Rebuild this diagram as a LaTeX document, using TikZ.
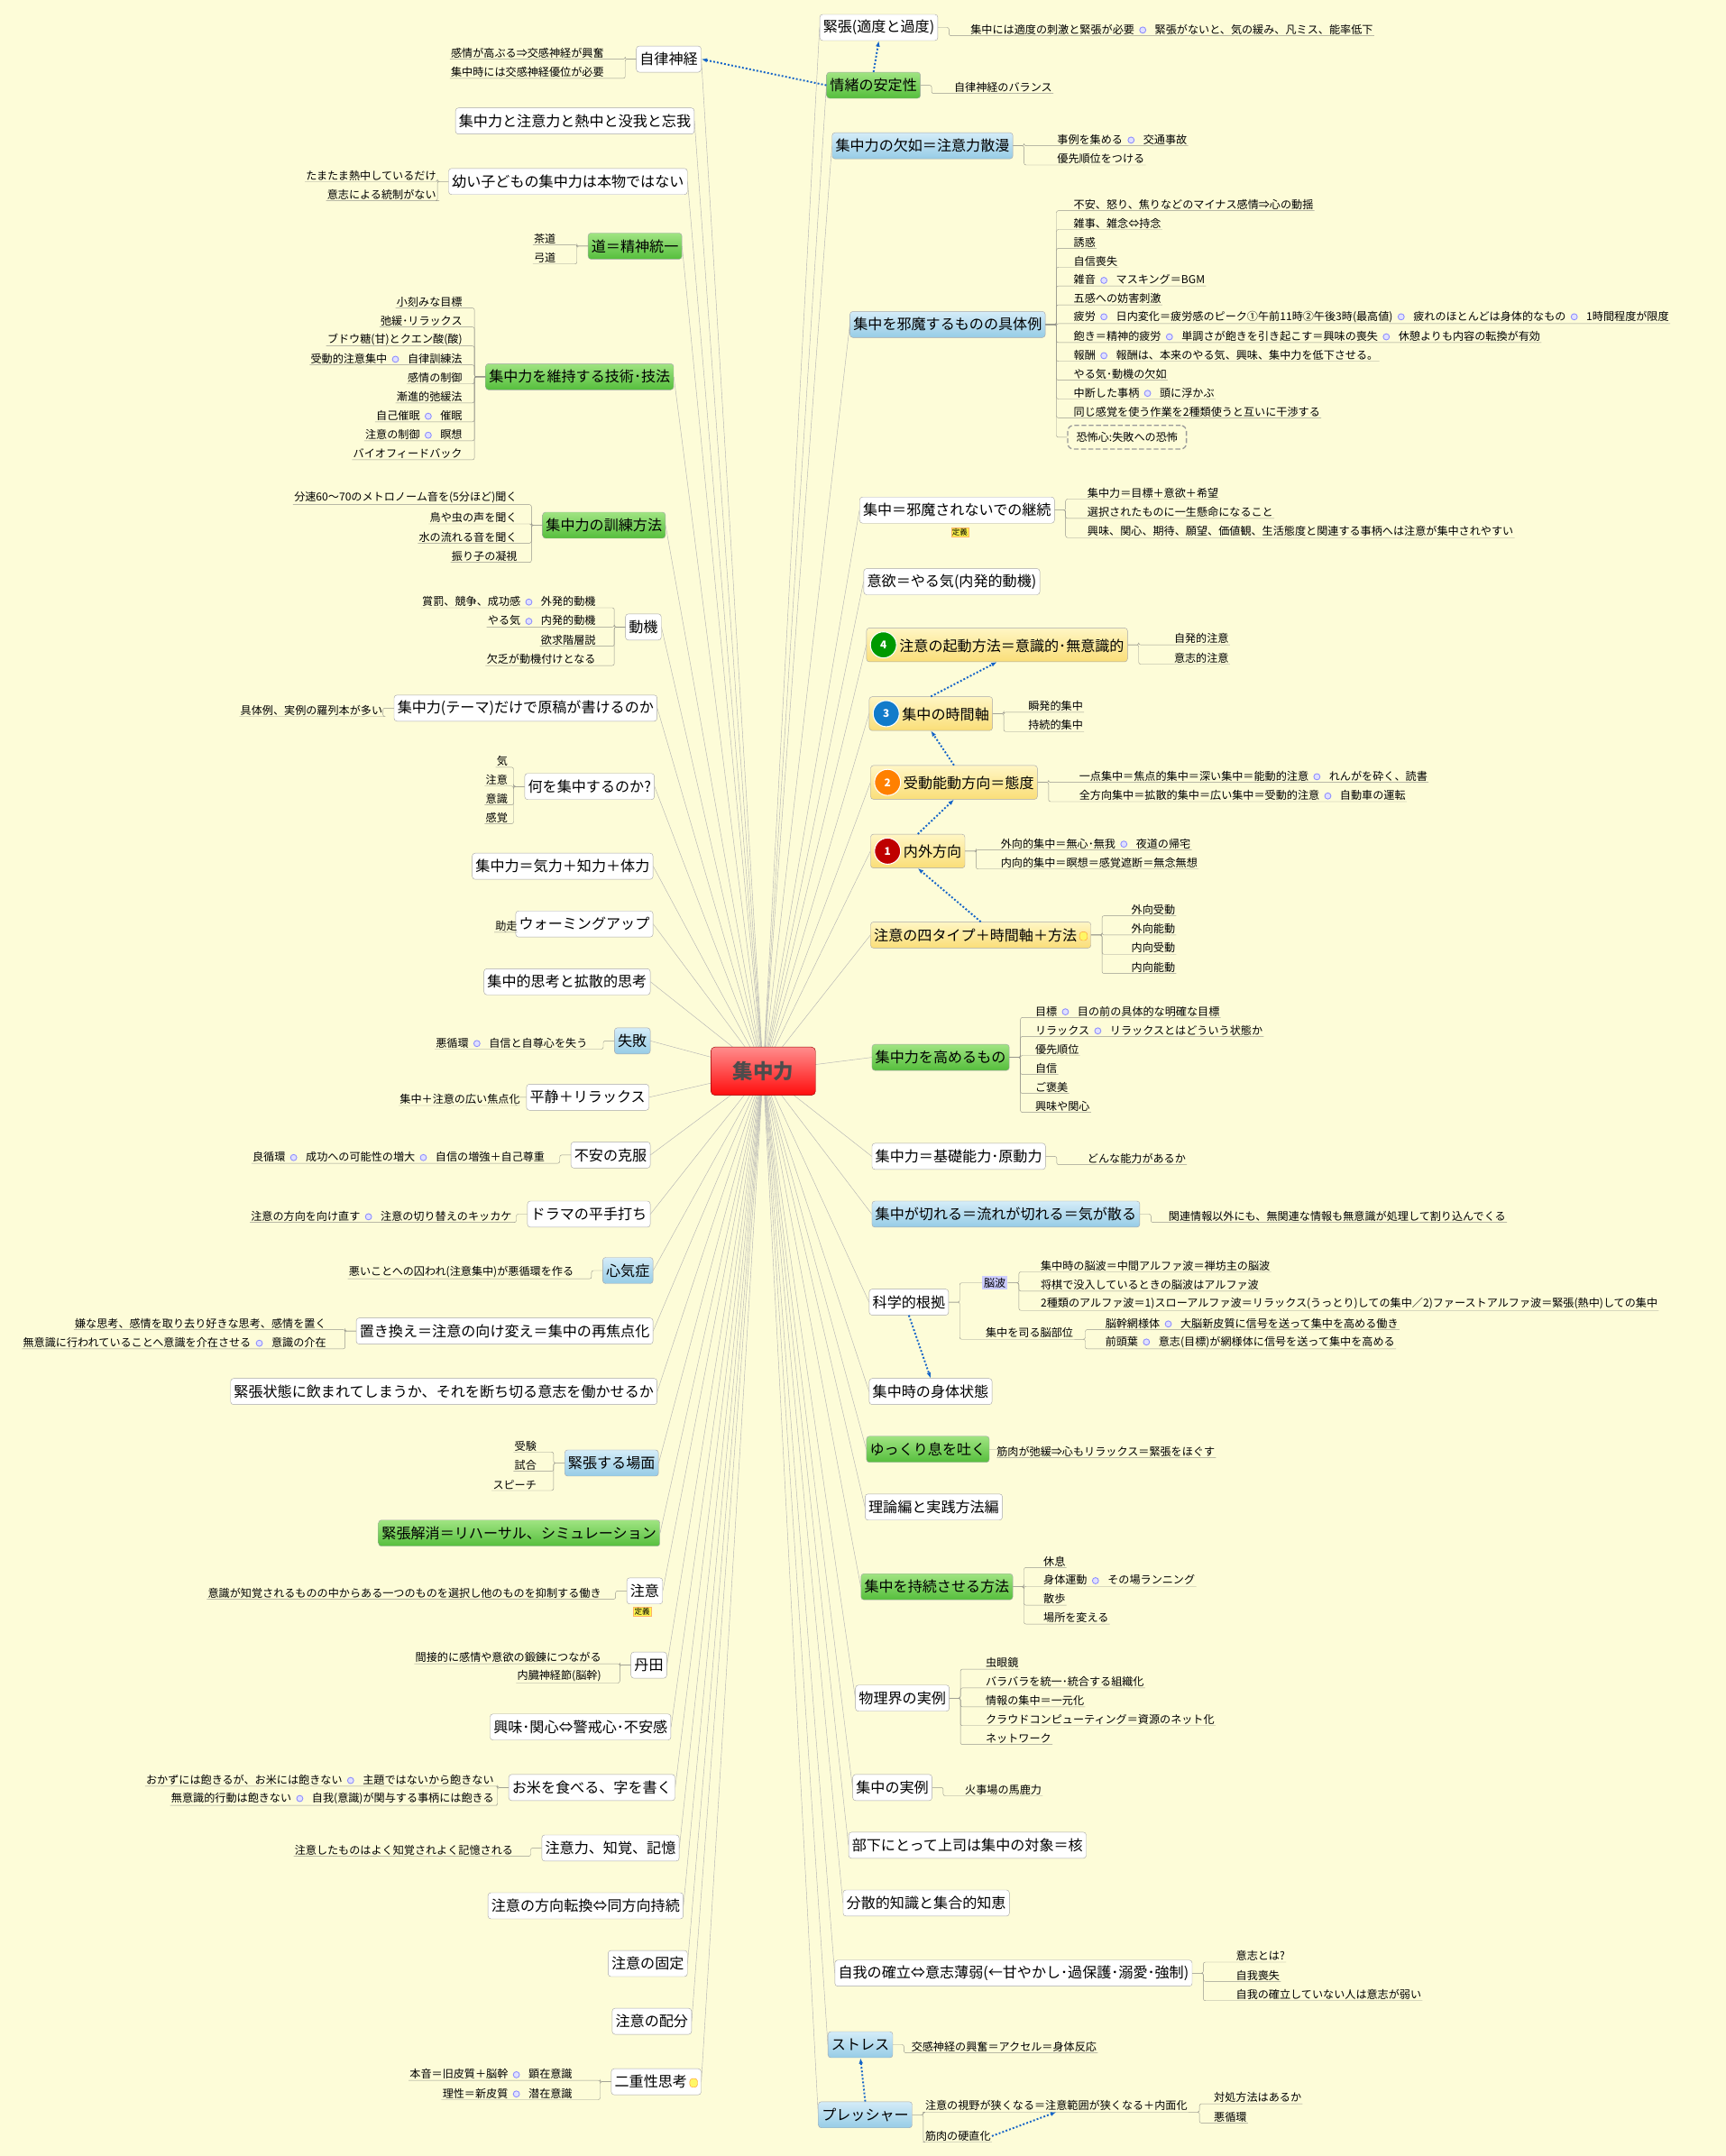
\documentclass[tikz,border=0pt]{standalone}
\usepackage{fontspec}
\setmainfont{Noto Sans CJK JP}
\usetikzlibrary{backgrounds,arrows.meta}
\definecolor{paper}{RGB}{253,252,216}
\definecolor{twiggray}{RGB}{150,150,140}
\tikzset{
  branch/.style={draw=gray!70, rounded corners=3pt, fill=white, inner sep=3.5pt,
    minimum height=0.95cm, font=\fontsize{15}{16}\selectfont},
  greenb/.style={branch, top color={rgb,255:red,160;green,228;blue,130}, bottom color={rgb,255:red,85;green,190;blue,60}},
  blueb/.style={branch, top color={rgb,255:red,212;green,236;blue,248}, bottom color={rgb,255:red,150;green,204;blue,230}},
  yellowb/.style={branch, top color={rgb,255:red,255;green,246;blue,196}, bottom color={rgb,255:red,250;green,222;blue,120}},
  leaf/.style={inner sep=1pt, font=\fontsize{11.3}{12}\selectfont},
  twig/.style={draw=twiggray, rounded corners=2pt},
  spoke/.style={draw=gray!60, thin},
  hint/.style={-{Latex[length=6pt]}, draw={rgb,255:red,20;green,100;blue,200}, dotted, line width=1.8pt},
  tag/.style={inner sep=1pt, font=\fontsize{8}{9}\selectfont, fill=yellow!70, draw=orange!60}
}
\newcommand{\knob}{\hspace{5pt}\tikz[baseline=-0.6ex]\draw[draw=blue!45,fill=blue!12,line width=0.8pt] (0,0) circle (3.2pt);\hspace{9pt}}
\newcommand{\badge}[2]{\tikz[baseline=-0.8ex]\node[circle,fill=#1,text=white,font=\bfseries\fontsize{11}{12}\selectfont,inner sep=2pt,draw=white,line width=1pt]{#2};\,}
\newcommand{\memo}{\,\tikz[baseline=0pt]\draw[fill=yellow!60,draw=orange!80] (0,0) rectangle (8pt,9pt);}
% leaf to the right of its parent
\newcommand{\twigR}[5]{%
  \node[leaf,anchor=south west] (#2) at (#3,#4+6) {#5};
  \draw[twig] (#1) -- ++(8,0) |- (#2.south west) -- (#2.south east);}
% leaf to the left of its parent
\newcommand{\twigL}[5]{%
  \node[leaf,anchor=south east] (#2) at (#3,#4+6) {#5};
  \draw[twig] (#1) -- ++(-8,0) |- (#2.south east) -- (#2.south west);}
\begin{document}
\begin{tikzpicture}[x=0.05cm,y=-0.05cm]
\useasboundingbox (0,0) rectangle (1255,1568);
\node[draw=red!60!black, rounded corners=4pt, top color=red!45, bottom color=red!95, minimum width=3.8cm, minimum height=1.75cm, font=\fontsize{21}{24}\bfseries\selectfont, text=black!70] (hub) at (555,779) {集中力};

% right side
\node[branch,anchor=west] (r1) at (596,20) {緊張(適度と過度)};
\twigR{r1.east}{r1a}{705}{20}{集中には適度の刺激と緊張が必要\knob 緊張がないと、気の緩み、凡ミス、能率低下}
\node[greenb,anchor=west] (r2) at (601,62) {情緒の安定性};
\twigR{r2.east}{r2a}{693}{62}{自律神経のバランス}
\node[blueb,anchor=west] (r3) at (605,106) {集中力の欠如＝注意力散漫};
\twigR{r3.east}{r3a}{768}{100}{事例を集める\knob 交通事故}
\twigR{r3.east}{r3b}{768}{114}{優先順位をつける}
\node[blueb,anchor=west] (r4) at (618,236) {集中を邪魔するものの具体例};
\foreach \t [count=\i] in {不安、怒り、焦りなどのマイナス感情⇒心の動揺, 雑事、雑念⇔持念, 誘惑, 自信喪失,
  雑音\knob マスキング＝BGM, 五感への妨害刺激,
  疲労\knob 日内変化＝疲労感のピーク①午前11時②午後3時(最高値)\knob 疲れのほとんどは身体的なもの\knob 1時間程度が限度,
  飽き＝精神的疲労\knob 単調さが飽きを引き起こす＝興味の喪失\knob 休憩よりも内容の転換が有効,
  報酬\knob 報酬は、本来のやる気、興味、集中力を低下させる。, やる気･動機の欠如, 中断した事柄\knob 頭に浮かぶ,
  同じ感覚を使う作業を2種類使うと互いに干渉する}
  {\twigR{r4.east}{r4\i}{780}{133.5+13.7*\i}{\t}}
\node[font=\fontsize{11.3}{12}\selectfont,draw=gray!80,line width=1.2pt,dash pattern=on 5pt off 2.5pt,rounded corners=6pt,inner xsep=9pt,inner ysep=7pt,anchor=west] (r4f) at (776,318) {恐怖心:失敗への恐怖};
\draw[twig] (r4.east) -- ++(8,0) |- (r4f.west);
\node[branch,anchor=west] (r5) at (625,371) {集中＝邪魔されないでの継続};
\node[tag] (r5t) at (698,387) {定義};
\twigR{r5.east}{r5a}{790}{357}{集中力＝目標＋意欲＋希望}
\twigR{r5.east}{r5b}{790}{371}{選択されたものに一生懸命になること}
\twigR{r5.east}{r5c}{790}{385}{興味、関心、期待、願望、価値観、生活態度と関連する事柄へは注意が集中されやすい}
\node[branch,anchor=west] (r6) at (628,423) {意欲＝やる気(内発的動機)};
\node[yellowb,anchor=west] (r7) at (630,469) {\badge{green!60!black}{4}注意の起動方法＝意識的･無意識的};
\twigR{r7.east}{r7a}{853}{463}{自発的注意}
\twigR{r7.east}{r7b}{853}{477}{意志的注意}
\node[yellowb,anchor=west] (r8) at (632,519) {\badge{cyan!60!blue}{3}集中の時間軸};
\twigR{r8.east}{r8a}{747}{512}{瞬発的集中}
\twigR{r8.east}{r8b}{747}{526}{持続的集中}
\node[yellowb,anchor=west] (r9) at (633,569) {\badge{orange}{2}受動能動方向＝態度};
\twigR{r9.east}{r9a}{784}{563}{一点集中＝焦点的集中＝深い集中＝能動的注意\knob れんがを砕く、読書}
\twigR{r9.east}{r9b}{784}{577}{全方向集中＝拡散的集中＝広い集中＝受動的注意\knob 自動車の運転}
\node[yellowb,anchor=west] (r10) at (633,619) {\badge{red!75!black}{1}内外方向};
\twigR{r10.east}{r10a}{727}{612}{外向的集中＝無心･無我\knob 夜道の帰宅}
\twigR{r10.east}{r10b}{727}{626}{内向的集中＝瞑想＝感覚遮断＝無念無想}
\node[yellowb,anchor=west] (r11) at (633,680) {注意の四タイプ＋時間軸＋方法\memo};
\foreach \t [count=\i] in {外向受動, 外向能動, 内向受動, 内向能動}
  {\twigR{r11.east}{r11\i}{822}{646+14*\i}{\t}}
\node[greenb,anchor=west] (r12) at (634,769) {集中力を高めるもの};
\foreach \t [count=\i] in {目標\knob 目の前の具体的な明確な目標, リラックス\knob リラックスとはどういう状態か, 優先順位, 自信, ご褒美, 興味や関心}
  {\twigR{r12.east}{r12\i}{752}{720.2+13.8*\i}{\t}}
\node[branch,anchor=west] (r13) at (634,841) {集中力＝基礎能力･原動力};
\twigR{r13.east}{r13a}{790}{841}{どんな能力があるか}
\node[blueb,anchor=west] (r14) at (634,883) {集中が切れる＝流れが切れる＝気が散る};
\twigR{r14.east}{r14a}{849}{883}{関連情報以外にも、無関連な情報も無意識が処理して割り込んでくる}
\node[branch,anchor=west] (r15) at (632,947) {科学的根拠};
\node[leaf,anchor=west,fill=blue!20,inner sep=2pt] (r15w) at (714,933) {脳波};
\draw[twig] (r15.east) -- ++(8,0) |- (r15w.west);
\twigR{r15w.east}{r15a}{756}{919}{集中時の脳波＝中間アルファ波＝禅坊主の脳波}
\twigR{r15w.east}{r15b}{756}{933}{将棋で没入しているときの脳波はアルファ波}
\twigR{r15w.east}{r15c}{756}{947}{2種類のアルファ波＝1)スローアルファ波＝リラックス(うっとり)しての集中／2)ファーストアルファ波＝緊張(熱中)しての集中}
\twigR{r15.east}{r15d}{716}{968}{集中を司る脳部位}
\twigR{r15d.south east}{r15e}{803}{961}{脳幹網様体\knob 大脳新皮質に信号を送って集中を高める働き}
\twigR{r15d.south east}{r15f}{803}{975}{前頭葉\knob 意志(目標)が網様体に信号を送って集中を高める}
\node[branch,anchor=west] (r16) at (632,1012) {集中時の身体状態};
\node[greenb,anchor=west] (r17) at (630,1054) {ゆっくり息を吐く};
\twigR{r17.east}{r17a}{724}{1054}{筋肉が弛緩⇒心もリラックス＝緊張をほぐす}
\node[branch,anchor=west] (r18) at (629,1096) {理論編と実践方法編};
\node[greenb,anchor=west] (r19) at (626,1154) {集中を持続させる方法};
\foreach \t [count=\i] in {休息, 身体運動\knob その場ランニング, 散歩, 場所を変える}
  {\twigR{r19.east}{r19\i}{758}{1120.3+13.7*\i}{\t}}
\node[branch,anchor=west] (r20) at (622,1235) {物理界の実例};
\foreach \t [count=\i] in {虫眼鏡, バラバラを統一･統合する組織化, 情報の集中＝一元化, クラウドコンピューティング＝資源のネット化, ネットワーク}
  {\twigR{r20.east}{r20\i}{716}{1194.2+13.7*\i}{\t}}
\node[branch,anchor=west] (r21) at (620,1300) {集中の実例};
\twigR{r21.east}{r21a}{701}{1300}{火事場の馬鹿力}
\node[branch,anchor=west] (r22) at (617,1342) {部下にとって上司は集中の対象＝核};
\node[branch,anchor=west] (r23) at (613,1384) {分散的知識と集合的知恵};
\node[branch,anchor=west] (r24) at (607,1435) {自我の確立⇔意志薄弱(←甘やかし･過保護･溺愛･強制)};
\twigR{r24.east}{r24a}{898}{1421}{意志とは?}
\twigR{r24.east}{r24b}{898}{1435}{自我喪失}
\twigR{r24.east}{r24c}{898}{1449}{自我の確立していない人は意志が弱い}
\node[blueb,anchor=west] (r25) at (602,1487) {ストレス};
\twigR{r25.east}{r25a}{662}{1487}{交感神経の興奮＝アクセル＝身体反応}
\node[blueb,anchor=west] (r26) at (595,1538) {プレッシャー};
\twigR{r26.east}{r26a}{672}{1530}{注意の視野が狭くなる＝注意範囲が狭くなる＋内面化}
\twigR{r26a.south east}{r26b}{882}{1524}{対処方法はあるか}
\twigR{r26a.south east}{r26c}{882}{1538}{悪循環}
\twigR{r26.east}{r26d}{672}{1552}{筋肉の硬直化}

% left side
\node[branch,anchor=east] (l1) at (510,43) {自律神経};
\twigL{l1.west}{l1a}{440}{37}{感情が高ぶる⇒交感神経が興奮}
\twigL{l1.west}{l1b}{440}{51}{集中時には交感神経優位が必要}
\node[branch,anchor=east] (l2) at (505,88) {集中力と注意力と熱中と没我と忘我};
\node[branch,anchor=east] (l3) at (500,132) {幼い子どもの集中力は本物ではない};
\twigL{l3.west}{l3a}{318}{126}{たまたま熱中しているだけ}
\twigL{l3.west}{l3b}{318}{140}{意志による統制がない}
\node[greenb,anchor=east] (l4) at (496,179) {道＝精神統一};
\twigL{l4.west}{l4a}{405}{172}{茶道}
\twigL{l4.west}{l4b}{405}{186}{弓道}
\node[greenb,anchor=east] (l5) at (490,274) {集中力を維持する技術･技法};
\foreach \t [count=\i] in {小刻みな目標, 弛緩･リラックス, ブドウ糖(甘)とクエン酸(酸), 受動的注意集中\knob 自律訓練法, 感情の制御, 漸進的弛緩法, 自己催眠\knob 催眠, 注意の制御\knob 瞑想, バイオフィードバック}
  {\twigL{l5.west}{l5\i}{337}{204.2+13.8*\i}{\t}}
\node[greenb,anchor=east] (l6) at (484,382) {集中力の訓練方法};
\foreach \t [count=\i] in {分速60～70のメトロノーム音を(5分ほど)聞く, 鳥や虫の声を聞く, 水の流れる音を聞く, 振り子の凝視}
  {\twigL{l6.west}{l6\i}{377}{347+14*\i}{\t}}
\node[branch,anchor=east] (l7) at (481,456) {動機};
\foreach \t [count=\i] in {賞罰、競争、成功感\knob 外発的動機, やる気\knob 内発的動機, 欲求階層説, 欠乏が動機付けとなる}
  {\twigL{l7.west}{l7\i}{434}{422+14*\i}{\t}}
\node[branch,anchor=east] (l8) at (478,515) {集中力(テーマ)だけで原稿が書けるのか};
\twigL{l8.west}{l8a}{279}{515}{具体例、実例の羅列本が多い}
\node[branch,anchor=east] (l9) at (476,572) {何を集中するのか?};
\foreach \t [count=\i] in {気, 注意, 意識, 感覚}
  {\twigL{l9.west}{l9\i}{370}{538.3+13.7*\i}{\t}}
\node[branch,anchor=east] (l10) at (475,630) {集中力＝気力＋知力＋体力};
\node[branch,anchor=east] (l11) at (475,672) {ウォーミングアップ};
\twigL{l11.west}{l11a}{377}{672}{助走}
\node[branch,anchor=east] (l12) at (473,714) {集中的思考と拡散的思考};
\node[blueb,anchor=east] (l13) at (473,757) {失敗};
\twigL{l13.west}{l13a}{428}{757}{悪循環\knob 自信と自尊心を失う}
\node[branch,anchor=east] (l14) at (472,798) {平静＋リラックス};
\twigL{l14.west}{l14a}{379}{798}{集中＋注意の広い焦点化}
\node[branch,anchor=east] (l15) at (473,840) {不安の克服};
\twigL{l15.west}{l15a}{397}{840}{良循環\knob 成功への可能性の増大\knob 自信の増強＋自己尊重}
\node[branch,anchor=east] (l16) at (473,883) {ドラマの平手打ち};
\twigL{l16.west}{l16a}{373}{883}{注意の方向を向け直す\knob 注意の切り替えのキッカケ}
\node[blueb,anchor=east] (l17) at (475,924) {心気症};
\twigL{l17.west}{l17a}{418}{924}{悪いことへの囚われ(注意集中)が悪循環を作る}
\node[branch,anchor=east] (l18) at (475,968) {置き換え＝注意の向け変え＝集中の再焦点化};
\twigL{l18.west}{l18a}{238}{961}{嫌な思考、感情を取り去り好きな思考、感情を置く}
\twigL{l18.west}{l18b}{238}{975}{無意識に行われていることへ意識を介在させる\knob 意識の介在}
\node[branch,anchor=east] (l19) at (478,1012) {緊張状態に飲まれてしまうか、それを断ち切る意志を働かせるか};
\node[blueb,anchor=east] (l20) at (479,1064) {緊張する場面};
\foreach \t [count=\i] in {受験, 試合, スピーチ}
  {\twigL{l20.west}{l20\i}{391}{1036+14*\i}{\t}}
\node[greenb,anchor=east] (l21) at (480,1115) {緊張解消＝リハーサル、シミュレーション};
\node[branch,anchor=east] (l22) at (482,1157) {注意};
\node[tag] (l22t) at (467,1172) {定義};
\twigL{l22.west}{l22a}{438}{1157}{意識が知覚されるものの中からある一つのものを選択し他のものを抑制する働き}
\node[branch,anchor=east] (l23) at (485,1211) {丹田};
\twigL{l23.west}{l23a}{438}{1204}{間接的に感情や意欲の鍛錬につながる}
\twigL{l23.west}{l23b}{438}{1218}{内臓神経節(脳幹)}
\node[branch,anchor=east] (l24) at (488,1256) {興味･関心⇔警戒心･不安感};
\node[branch,anchor=east] (l25) at (491,1300) {お米を食べる、字を書く};
\twigL{l25.west}{l25a}{360}{1293}{おかずには飽きるが、お米には飽きない\knob 主題ではないから飽きない}
\twigL{l25.west}{l25b}{360}{1307}{無意識的行動は飽きない\knob 自我(意識)が関与する事柄には飽きる}
\node[branch,anchor=east] (l26) at (494,1344) {注意力、知覚、記憶};
\twigL{l26.west}{l26a}{374}{1344}{注意したものはよく知覚されよく記憶される}
\node[branch,anchor=east] (l27) at (497,1386) {注意の方向転換⇔同方向持続};
\node[branch,anchor=east] (l28) at (500,1428) {注意の固定};
\node[branch,anchor=east] (l29) at (503,1470) {注意の配分};
\node[branch,anchor=east] (l30) at (510,1514) {二重性思考\memo};
\twigL{l30.west}{l30a}{417}{1507}{本音＝旧皮質＋脳幹\knob 顕在意識}
\twigL{l30.west}{l30b}{417}{1521}{理性＝新皮質\knob 潜在意識}

% spokes from the hub
\begin{scope}[on background layer]
  \fill[paper] (0,0) rectangle (1255,1568);
  \foreach \n in {1,...,26} \draw[spoke] (hub.center) -- (r\n.west);
  \foreach \n in {1,...,30} \draw[spoke] (hub.center) -- (l\n.east);
\end{scope}

% hints
\draw[hint] (r2.north) -- (r1.south);
\draw[hint] (r2.west) -- (l1.east);
\draw[hint] (r11.north) -- (r10.south);
\draw[hint] (r10.north) -- (r9.south);
\draw[hint] (r9.north) -- (r8.south);
\draw[hint] (r8.north) -- (r7.south);
\draw[hint] (r15.south) -- (r16.north);
\draw[hint] (r26.north) -- (r25.south);
\draw[hint] (r26d.east) -- (r26a.south);
\end{tikzpicture}
\end{document}
